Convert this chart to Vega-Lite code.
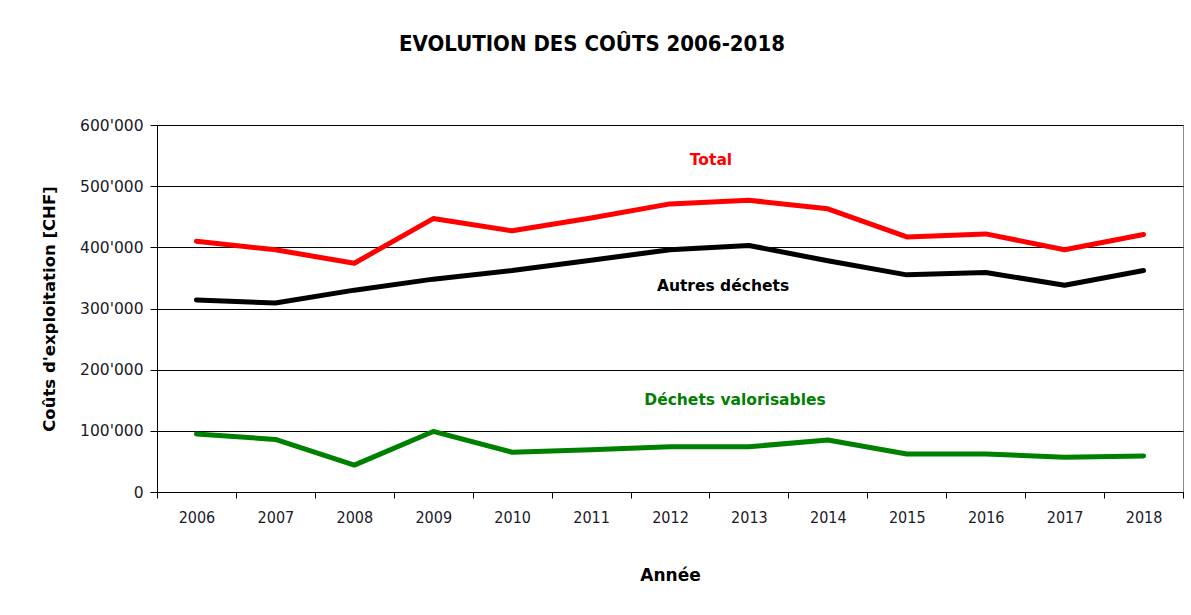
{
  "$schema": "https://vega.github.io/schema/vega-lite/v6.json",
  "width": 1026,
  "height": 367,
  "autosize": {"type": "none"},
  "padding": {"left": 157, "top": 125, "right": 8, "bottom": 123},
  "background": "white",
  "title": {
    "text": "EVOLUTION DES COÛTS 2006-2018",
    "font": "DejaVu Sans Condensed",
    "fontSize": 22,
    "fontWeight": "bold",
    "color": "black",
    "anchor": "middle",
    "dx": -78,
    "offset": 62
  },
  "config": {
    "view": {"stroke": "#8c8c8c", "strokeWidth": 1},
    "axis": {
      "domainColor": "#000000",
      "tickColor": "#000000",
      "gridColor": "#000000",
      "gridWidth": 1,
      "gridOpacity": 1,
      "labelColor": "#1a1a2a",
      "titleColor": "#000000"
    }
  },
  "datasets": {
    "costs": [
      {"year": "2006", "series": "Total", "value": 410000},
      {"year": "2007", "series": "Total", "value": 396000},
      {"year": "2008", "series": "Total", "value": 374000},
      {"year": "2009", "series": "Total", "value": 447000},
      {"year": "2010", "series": "Total", "value": 427000},
      {"year": "2011", "series": "Total", "value": 448000},
      {"year": "2012", "series": "Total", "value": 471000},
      {"year": "2013", "series": "Total", "value": 477000},
      {"year": "2014", "series": "Total", "value": 463000},
      {"year": "2015", "series": "Total", "value": 417000},
      {"year": "2016", "series": "Total", "value": 422000},
      {"year": "2017", "series": "Total", "value": 396000},
      {"year": "2018", "series": "Total", "value": 421000},
      {"year": "2006", "series": "Autres déchets", "value": 314000},
      {"year": "2007", "series": "Autres déchets", "value": 309000},
      {"year": "2008", "series": "Autres déchets", "value": 330000},
      {"year": "2009", "series": "Autres déchets", "value": 348000},
      {"year": "2010", "series": "Autres déchets", "value": 362000},
      {"year": "2011", "series": "Autres déchets", "value": 379000},
      {"year": "2012", "series": "Autres déchets", "value": 396000},
      {"year": "2013", "series": "Autres déchets", "value": 403000},
      {"year": "2014", "series": "Autres déchets", "value": 378000},
      {"year": "2015", "series": "Autres déchets", "value": 355000},
      {"year": "2016", "series": "Autres déchets", "value": 359000},
      {"year": "2017", "series": "Autres déchets", "value": 338000},
      {"year": "2018", "series": "Autres déchets", "value": 362000},
      {"year": "2006", "series": "Déchets valorisables", "value": 95000},
      {"year": "2007", "series": "Déchets valorisables", "value": 86000},
      {"year": "2008", "series": "Déchets valorisables", "value": 44000},
      {"year": "2009", "series": "Déchets valorisables", "value": 99000},
      {"year": "2010", "series": "Déchets valorisables", "value": 65000},
      {"year": "2011", "series": "Déchets valorisables", "value": 69000},
      {"year": "2012", "series": "Déchets valorisables", "value": 74000},
      {"year": "2013", "series": "Déchets valorisables", "value": 74000},
      {"year": "2014", "series": "Déchets valorisables", "value": 85000},
      {"year": "2015", "series": "Déchets valorisables", "value": 62000},
      {"year": "2016", "series": "Déchets valorisables", "value": 62000},
      {"year": "2017", "series": "Déchets valorisables", "value": 57000},
      {"year": "2018", "series": "Déchets valorisables", "value": 59000}
    ],
    "labels": [
      {"year": "2012", "series": "Total", "value": 543000},
      {"year": "2012", "series": "Autres déchets", "value": 337000},
      {"year": "2012", "series": "Déchets valorisables", "value": 150000}
    ]
  },
  "layer": [
    {
      "data": {"name": "costs"},
      "mark": {"type": "line", "strokeWidth": 5, "strokeCap": "round", "strokeJoin": "round"},
      "encoding": {
        "x": {
          "field": "year",
          "type": "ordinal",
          "bandPosition": 0.5,
          "scale": {"type": "band", "paddingInner": 0, "paddingOuter": 0},
          "axis": {
            "title": "Année",
            "titleFont": "DejaVu Sans",
            "titleFontSize": 17,
            "titleFontWeight": "bold",
            "titlePadding": 42,
            "labelFont": "DejaVu Sans Condensed",
            "labelFontSize": 16,
            "labelAngle": 0,
            "labelPadding": 11,
            "tickBand": "extent",
            "tickSize": 6,
            "grid": false
          }
        },
        "y": {
          "field": "value",
          "type": "quantitative",
          "scale": {"domain": [0, 600000], "nice": false},
          "axis": {
            "title": "Coûts d'exploitation [CHF]",
            "titleFont": "DejaVu Sans",
            "titleFontSize": 16.5,
            "titleFontWeight": "bold",
            "titlePadding": 22,
            "labelFont": "DejaVu Sans",
            "labelFontSize": 15.5,
            "labelPadding": 7,
            "tickSize": 7,
            "values": [0, 100000, 200000, 300000, 400000, 500000, 600000],
            "labelExpr": "replace(format(datum.value, ','), ',', \"'\")",
            "grid": true
          }
        },
        "color": {
          "field": "series",
          "type": "nominal",
          "scale": {
            "domain": ["Total", "Autres déchets", "Déchets valorisables"],
            "range": ["#ff0000", "#000000", "#008000"]
          },
          "legend": null
        },
        "detail": {"field": "series"}
      }
    },
    {
      "data": {"name": "labels"},
      "transform": [{"filter": "datum.series === 'Total'"}],
      "mark": {"type": "text", "font": "DejaVu Sans", "fontSize": 15.5, "fontWeight": "bold", "align": "center", "baseline": "middle", "dx": 41},
      "encoding": {
        "x": {"field": "year", "type": "ordinal"},
        "y": {"field": "value", "type": "quantitative"},
        "text": {"field": "series"},
        "color": {"field": "series", "type": "nominal"}
      }
    },
    {
      "data": {"name": "labels"},
      "transform": [{"filter": "datum.series === 'Autres déchets'"}],
      "mark": {"type": "text", "font": "DejaVu Sans", "fontSize": 15.5, "fontWeight": "bold", "align": "center", "baseline": "middle", "dx": 53},
      "encoding": {
        "x": {"field": "year", "type": "ordinal"},
        "y": {"field": "value", "type": "quantitative"},
        "text": {"field": "series"},
        "color": {"field": "series", "type": "nominal"}
      }
    },
    {
      "data": {"name": "labels"},
      "transform": [{"filter": "datum.series === 'Déchets valorisables'"}],
      "mark": {"type": "text", "font": "DejaVu Sans", "fontSize": 15.5, "fontWeight": "bold", "align": "center", "baseline": "middle", "dx": 65},
      "encoding": {
        "x": {"field": "year", "type": "ordinal"},
        "y": {"field": "value", "type": "quantitative"},
        "text": {"field": "series"},
        "color": {"field": "series", "type": "nominal"}
      }
    }
  ]
}
